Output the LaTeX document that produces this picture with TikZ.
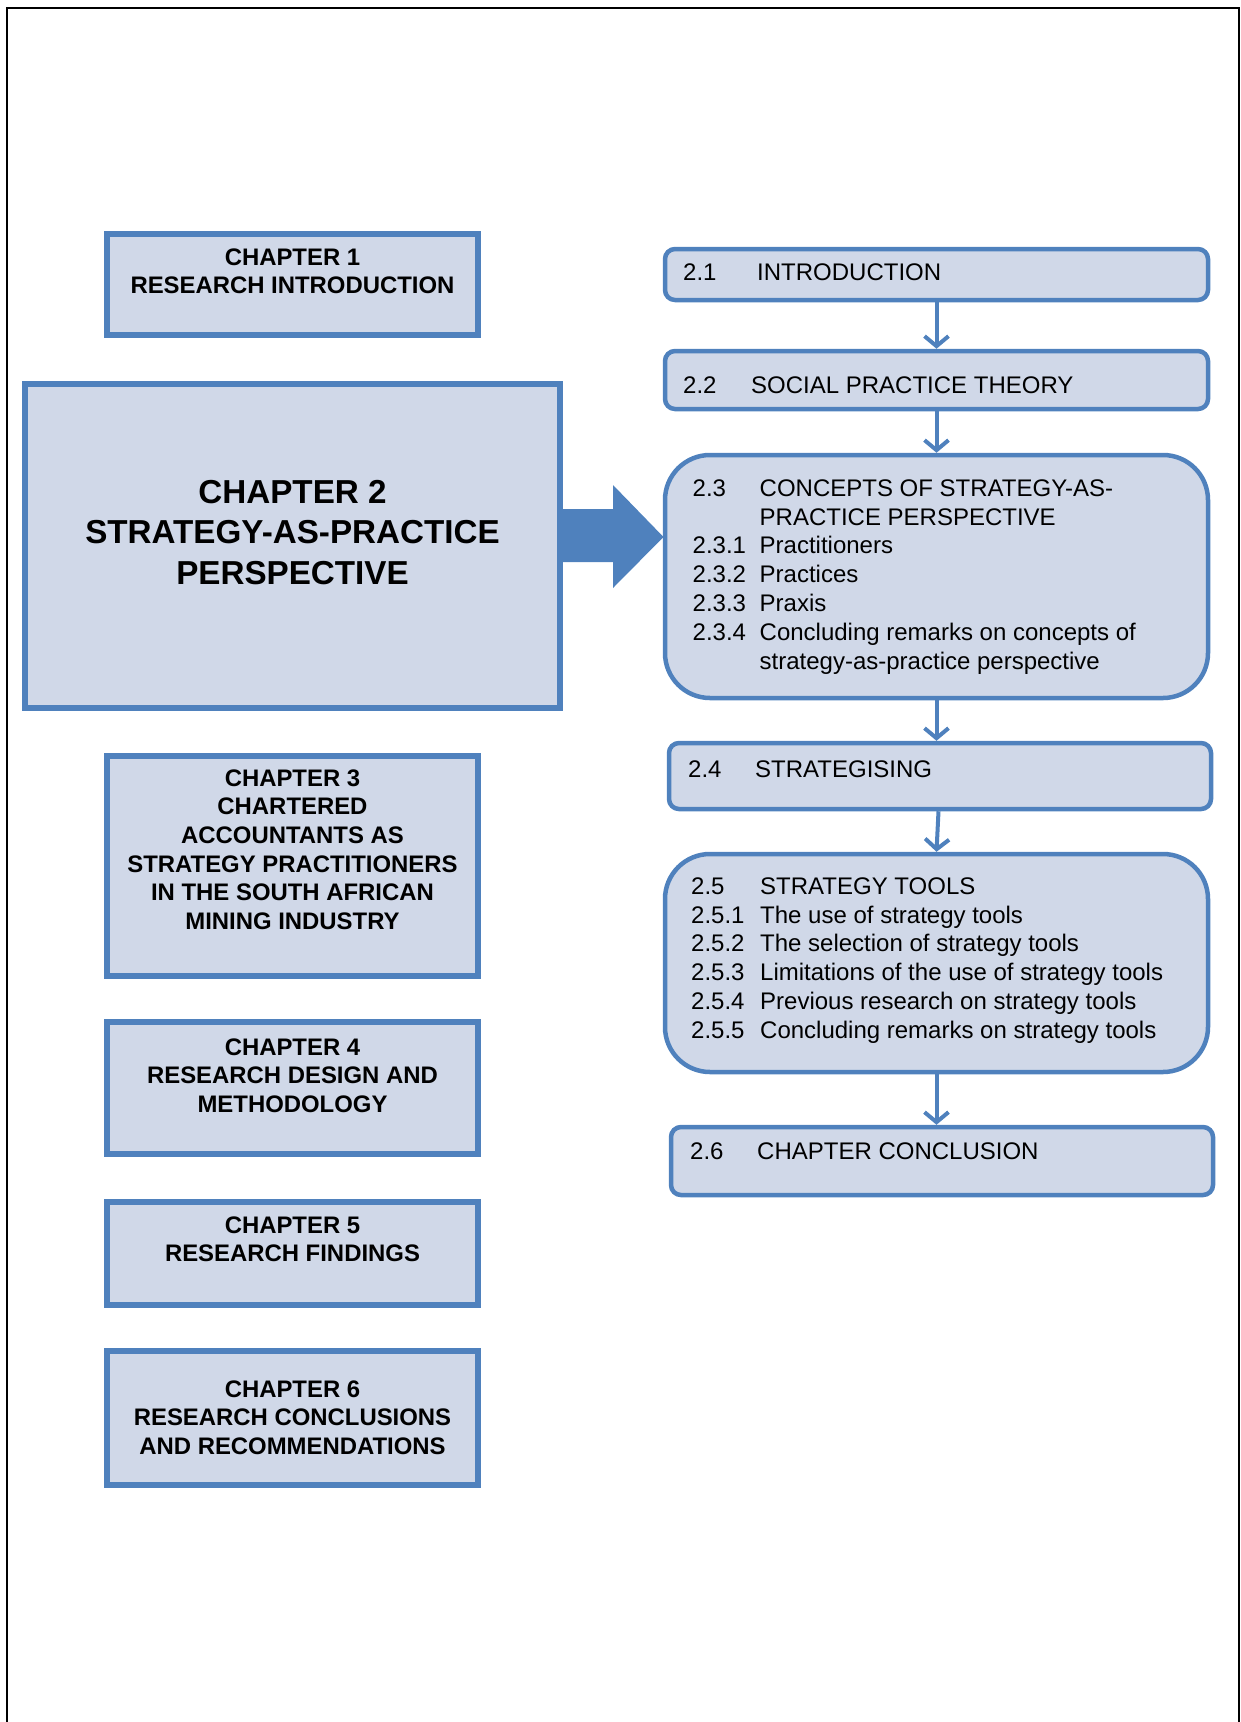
\documentclass[tikz,border=0pt]{standalone}
\usepackage{fontspec}
\setmainfont{Liberation Sans}
\usetikzlibrary{arrows.meta}
\definecolor{boxfill}{HTML}{D0D8E8}
\definecolor{boxline}{HTML}{4F81BD}
\begin{document}
\begin{tikzpicture}[x=1pt,y=-1pt,
  chbox/.style={rectangle, draw=boxline, fill=boxfill, line width=6pt, minimum width=371pt, inner sep=0pt},
  chtext/.style={font=\bfseries\fontsize{23.9}{28.6}\selectfont, align=center, anchor=north, inner sep=0pt},
  secbox/.style={rectangle, draw=boxline, fill=boxfill, line width=4.5pt, rounded corners=10pt, minimum width=543pt, inner sep=0pt},
  bigsec/.style={secbox, rounded corners=45pt},
  sectext/.style={font=\fontsize{24}{28.8}\selectfont, anchor=north west, inner sep=0pt},
  conn/.style={draw=boxline, line width=4pt, -{Straight Barb[length=10pt,width=24pt]}}]
\useasboundingbox (0,0) rectangle (1240,1722);
\draw[line width=2pt] (7,1722) -- (7,8) -- (1239,8) -- (1239,1722);

% left column
\node[chbox, minimum height=101pt] (ch1) at (292.5,284.5) {};
\node[chbox, minimum width=535pt, line width=6.5pt, minimum height=324pt] (ch2) at (292.5,546) {};
\node[chbox, minimum height=220pt] (ch3) at (292.5,866) {};
\node[chbox, minimum height=132pt] (ch4) at (292.5,1088) {};
\node[chbox, minimum height=103pt] (ch5) at (292.5,1253.5) {};
\node[chbox, minimum height=134pt] (ch6) at (292.5,1418) {};

\node[chtext] (t1) at (292.5,245) {\strut CHAPTER 1\\\strut RESEARCH INTRODUCTION};
\node[chtext, font=\bfseries\fontsize{33.2}{40.5}\selectfont] (t2) at (292.5,474.6)
  {\strut CHAPTER 2\\\strut STRATEGY-AS-PRACTICE\\\strut PERSPECTIVE};
\node[chtext] (t3) at (292.5,766) {\strut CHAPTER 3\\\strut CHARTERED\\\strut ACCOUNTANTS AS\\\strut STRATEGY PRACTITIONERS\\\strut IN THE SOUTH AFRICAN\\\strut MINING INDUSTRY};
\node[chtext] (t4) at (292.5,1035) {\strut CHAPTER 4\\\strut RESEARCH DESIGN AND\\\strut METHODOLOGY};
\node[chtext] (t5) at (292.5,1213) {\strut CHAPTER 5\\\strut RESEARCH FINDINGS};
\node[chtext] (t6) at (292.5,1377) {\strut CHAPTER 6\\\strut RESEARCH CONCLUSIONS\\\strut AND RECOMMENDATIONS};

% big arrow
\fill[boxline] (563,509) -- (613,509) -- (613,485) -- (663.5,537) -- (613,588) -- (613,562) -- (563,562) -- cycle;

% right column
\node[secbox, minimum height=51pt] (b21) at (936.5,274.5) {};
\node[secbox, minimum height=58pt] (b22) at (936.5,380) {};
\node[bigsec, minimum height=243pt] (b23) at (936.5,576.5) {};
\node[secbox, minimum width=542pt, minimum height=66pt] (b24) at (940,776) {};
\node[bigsec, minimum height=218pt] (b25) at (936.5,963) {};
\node[secbox, minimum width=542pt, minimum height=68pt] (b26) at (942,1161) {};

\node[sectext] (s21) at (683,260.5) {\begin{tabular}{@{}p{74pt}@{}l@{}}2.1 & INTRODUCTION\end{tabular}};
\node[sectext] (s22) at (683,373) {\begin{tabular}{@{}p{68pt}@{}l@{}}2.2 & SOCIAL PRACTICE THEORY\end{tabular}};
\node[sectext] (s23) at (692.5,476) {\begin{tabular}{@{}p{67pt}@{}l@{}}
2.3 & CONCEPTS OF STRATEGY-AS-\\
 & PRACTICE PERSPECTIVE\\
2.3.1 & Practitioners\\
2.3.2 & Practices\\
2.3.3 & Praxis\\
2.3.4 & Concluding remarks on concepts of\\
 & strategy-as-practice perspective
\end{tabular}};
\node[sectext] (s24) at (688,757) {\begin{tabular}{@{}p{67pt}@{}l@{}}2.4 & STRATEGISING\end{tabular}};
\node[sectext] (s25) at (691,874) {\begin{tabular}{@{}p{69pt}@{}l@{}}
2.5 & STRATEGY TOOLS\\
2.5.1 & The use of strategy tools\\
2.5.2 & The selection of strategy tools\\
2.5.3 & Limitations of the use of strategy tools\\
2.5.4 & Previous research on strategy tools\\
2.5.5 & Concluding remarks on strategy tools
\end{tabular}};
\node[sectext] (s26) at (690,1139) {\begin{tabular}{@{}p{67pt}@{}l@{}}2.6 & CHAPTER CONCLUSION\end{tabular}};

% connectors
\draw[conn] (b21.south) -- (b22.north);
\draw[conn] (b22.south) -- (b23.north);
\draw[conn] (b23.south) -- (b23.south |- b24.north);
\draw[conn] ([xshift=2pt]b23.south |- b24.south) -- (b25.north);
\draw[conn] (b25.south) -- (b25.south |- b26.north);
\end{tikzpicture}
\end{document}
